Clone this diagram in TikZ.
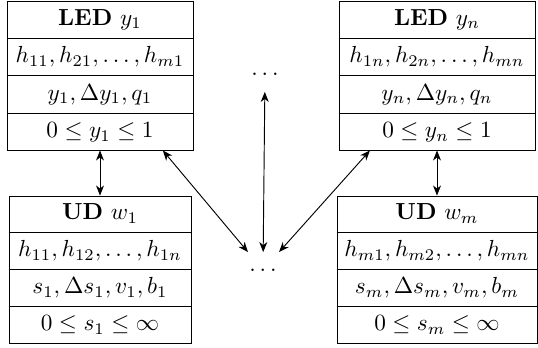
\documentclass[tikz,border=0pt]{standalone}
\usetikzlibrary{calc,arrows.meta}
\newdimen\px \px=0.43pt
\tikzset{
  boxframe/.style={draw, line width=0.4pt, inner sep=0pt},
  rowtext/.style={inner sep=0pt, text height=7pt, text depth=2pt},
  dotsnode/.style={inner sep=0pt, minimum width=20pt, minimum height=15pt},
  link/.style={<->, line width=0.4pt, >={Stealth[length=4.3pt,width=3.4pt,inset=1.3pt]}},
}
\newcommand\tablebox[8]{%
  \node[boxframe, minimum width=#3, minimum height=#4] (#1) at #2 {};
  \node[rowtext] (#1-r1) at ($(#1.north)!0.125!(#1.south)$) {#5};
  \node[rowtext] (#1-r2) at ($(#1.north)!0.375!(#1.south)$) {#6};
  \node[rowtext] (#1-r3) at ($(#1.north)!0.625!(#1.south)$) {#7};
  \node[rowtext] (#1-r4) at ($(#1.north)!0.875!(#1.south)$) {#8};
  \draw ($(#1.north west)!0.25!(#1.south west)$) -- ($(#1.north east)!0.25!(#1.south east)$);
  \draw ($(#1.north west)!0.5!(#1.south west)$) -- ($(#1.north east)!0.5!(#1.south east)$);
  \draw ($(#1.north west)!0.75!(#1.south west)$) -- ($(#1.north east)!0.75!(#1.south east)$);
}
\begin{document}
\begin{tikzpicture}[x=\px, y=-\px]
\useasboundingbox (0,0) rectangle (538,347);
\tablebox{led1}{(100,75.5)}{186\px}{149\px}{\textbf{LED} $y_1$}{$h_{11},h_{21},\ldots,h_{m1}$}{$y_1,\Delta y_1,q_1$}{$0\le y_1\le 1$}
\tablebox{ledn}{(437,75.5)}{196\px}{149\px}{\textbf{LED} $y_n$}{$h_{1n},h_{2n},\ldots,h_{mn}$}{$y_n,\Delta y_n,q_n$}{$0\le y_n\le 1$}
\tablebox{ud1}{(100,269.5)}{182\px}{147\px}{\textbf{UD} $w_1$}{$h_{11},h_{12},\ldots,h_{1n}$}{$s_1,\Delta s_1,v_1,b_1$}{$0\le s_1\le \infty$}
\tablebox{udm}{(437,269.5)}{200\px}{147\px}{\textbf{UD} $w_m$}{$h_{m1},h_{m2},\ldots,h_{mn}$}{$s_m,\Delta s_m,v_m,b_m$}{$0\le s_m\le \infty$}
\node[dotsnode] (dtop) at (265,74) {$\ldots$};
\node[dotsnode] (dbot) at (263,270) {$\ldots$};
\draw[link] (led1) -- (ud1);
\draw[link] (ledn) -- (udm);
\draw[link] (led1) -- (dbot);
\draw[link] (ledn) -- (dbot);
\draw[link] (dbot) -- (dtop);
\end{tikzpicture}
\end{document}
